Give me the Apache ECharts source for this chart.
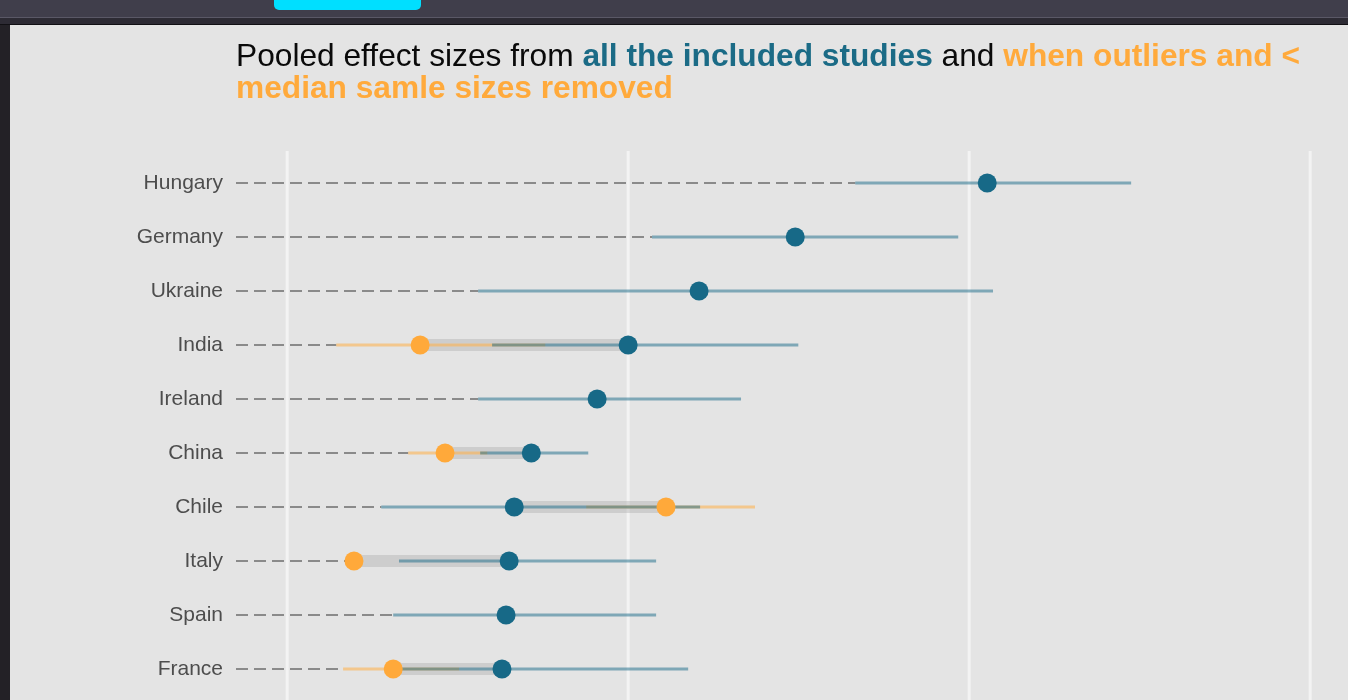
<!DOCTYPE html>
<html>
<head>
<meta charset="utf-8">
<script src="https://cdn.jsdelivr.net/npm/echarts@6/dist/echarts.min.js"></script>
<style>
  html, body { margin: 0; padding: 0; width: 1348px; height: 700px; overflow: hidden; background: #232126; }
  .abs { position: absolute; }
  #bar1 { left: 0; top: 0; width: 1348px; height: 17px; background: #403e4b; }
  #bar1b { left: 0; top: 17px; width: 1348px; height: 1px; background: #5a5866; }
  #bar2 { left: 0; top: 18px; width: 1348px; height: 6px; background: #2d2b34; }
  #bar3 { left: 0; top: 24px; width: 1348px; height: 1px; background: #111014; }
  #tab { left: 274px; top: 0; width: 147px; height: 10px; background: #00dfff; border-radius: 0 0 5px 5px; }
  #panel { left: 10px; top: 25px; width: 1338px; height: 675px; background: #e4e4e4; }
  #chart { left: 0; top: 0; width: 1348px; height: 700px; }
</style>
</head>
<body>
<div class="abs" id="bar1"></div>
<div class="abs" id="bar1b"></div>
<div class="abs" id="bar2"></div>
<div class="abs" id="bar3"></div>
<div class="abs" id="tab"></div>
<div class="abs" id="panel"></div>
<div class="abs" id="chart"></div>
<script>
// ---- data ----
const categories = ['Hungary', 'Germany', 'Ukraine', 'India', 'Ireland', 'China', 'Chile', 'Italy', 'Spain', 'France'];
const allEst = [0.3053, 0.2490, 0.2208, 0.2000, 0.1909, 0.1716, 0.1666, 0.1651, 0.1642, 0.1630];
const allLo  = [0.2666, 0.2070, 0.1560, 0.1601, 0.1560, 0.1566, 0.1276, 0.1328, 0.1311, 0.1337];
const allHi  = [0.3475, 0.2968, 0.3070, 0.2499, 0.2331, 0.1883, 0.2211, 0.2082, 0.2082, 0.2176];
const remEst = [null, null, null, 0.1390, null, 0.1463, 0.2111, 0.1196, null, 0.1311];
const remLo  = [null, null, null, 0.1144, null, 0.1355, 0.1877, 0.1173, null, 0.1164];
const remHi  = [null, null, null, 0.1757, null, 0.1587, 0.2372, 0.1220, null, 0.1504];
const gridValues = [0.1, 0.2, 0.3, 0.4];
const axisMin = 0.085;
const axisMax = 0.4111;

const BLUE = '#176987';
const ORANGE = '#ffa93a';

const chart = echarts.init(document.getElementById('chart'), null, { renderer: 'canvas' });

function segRender(style) {
  return function (params, api) {
    const a = api.coord([api.value(0), api.value(2)]);
    const b = api.coord([api.value(1), api.value(2)]);
    return { type: 'line', shape: { x1: a[0], y1: a[1], x2: b[0], y2: b[1] }, style: style };
  };
}

const idx = categories.map((c, i) => i);
const remIdx = idx.filter(i => remEst[i] !== null);

const dashData = idx.map(i => [axisMin, remLo[i] !== null ? Math.min(allLo[i], remLo[i]) : allLo[i], i]);
const bandData = remIdx.map(i => [Math.min(remEst[i], allEst[i]), Math.max(remEst[i], allEst[i]), i]);
const orangeCI = remIdx.map(i => [remLo[i], remHi[i], i]);
const blueCI = idx.map(i => [allLo[i], allHi[i], i]);

const option = {
  backgroundColor: 'transparent',
  animation: false,
  title: {
    left: 236,
    top: 41,
    padding: 0,
    text: '{n|Pooled effect sizes from }{b|all the included studies}{n| and }{o|when outliers and <}\n{o|median samle sizes removed}',
    textStyle: {
      fontWeight: 'normal',
      rich: {
        n: { fontFamily: 'Liberation Sans', fontSize: 31.7, lineHeight: 32, fontWeight: 'normal', color: '#0a0a0a' },
        b: { fontFamily: 'Liberation Sans', fontSize: 31.7, lineHeight: 32, fontWeight: 'bold', color: '#1b6b86' },
        o: { fontFamily: 'Liberation Sans', fontSize: 31.7, lineHeight: 32, fontWeight: 'bold', color: '#ffaa3c' }
      }
    }
  },
  grid: { left: 236, right: 0, top: 156, height: 540, containLabel: false },
  xAxis: {
    type: 'value', min: axisMin, max: axisMax,
    axisLine: { show: false }, axisTick: { show: false }, axisLabel: { show: false }, splitLine: { show: false }
  },
  yAxis: {
    type: 'category', data: categories, inverse: true,
    axisLine: { show: false }, axisTick: { show: false }, splitLine: { show: false },
    axisLabel: { fontFamily: 'Liberation Sans', fontSize: 21, color: '#4d4d4d', margin: 13, padding: [2, 0, 0, 0] }
  },
  series: [
    {
      type: 'custom', name: 'grid', z: 1, silent: true, clip: false,
      data: gridValues.map(v => [v]),
      encode: { x: 0 },
      renderItem: function (params, api) {
        const cs = params.coordSys;
        const x = api.coord([api.value(0), 0])[0];
        return { type: 'line', shape: { x1: x, y1: cs.y - 5, x2: x, y2: cs.y + cs.height + 10 },
                 style: { stroke: '#f3f3f3', lineWidth: 3 } };
      }
    },
    {
      type: 'custom', name: 'dash', z: 2, silent: true,
      data: dashData, encode: { x: [0, 1], y: 2 },
      renderItem: segRender({ stroke: '#8a8a8a', lineWidth: 2.2, lineDash: [12, 6] })
    },
    {
      type: 'custom', name: 'band', z: 3, silent: true,
      data: bandData, encode: { x: [0, 1], y: 2 },
      renderItem: function (params, api) {
        const a = api.coord([api.value(0), api.value(2)]);
        const b = api.coord([api.value(1), api.value(2)]);
        return { type: 'rect', shape: { x: a[0], y: a[1] - 6, width: b[0] - a[0], height: 12 },
                 style: { fill: 'rgba(175,175,175,0.42)' } };
      }
    },
    {
      type: 'custom', name: 'orangeCI', z: 4, silent: true,
      data: orangeCI, encode: { x: [0, 1], y: 2 },
      renderItem: segRender({ stroke: 'rgba(255,175,70,0.55)', lineWidth: 3 })
    },
    {
      type: 'custom', name: 'blueCI', z: 5, silent: true,
      data: blueCI, encode: { x: [0, 1], y: 2 },
      renderItem: segRender({ stroke: 'rgba(23,105,135,0.5)', lineWidth: 3 })
    },
    {
      type: 'scatter', name: 'removed', z: 6, symbolSize: 19,
      itemStyle: { color: ORANGE, opacity: 1 },
      data: remIdx.map(i => [remEst[i], categories[i]])
    },
    {
      type: 'scatter', name: 'all', z: 7, symbolSize: 19,
      itemStyle: { color: BLUE, opacity: 1 },
      data: idx.map(i => [allEst[i], categories[i]])
    }
  ]
};
chart.setOption(option);
</script>
</body>
</html>
